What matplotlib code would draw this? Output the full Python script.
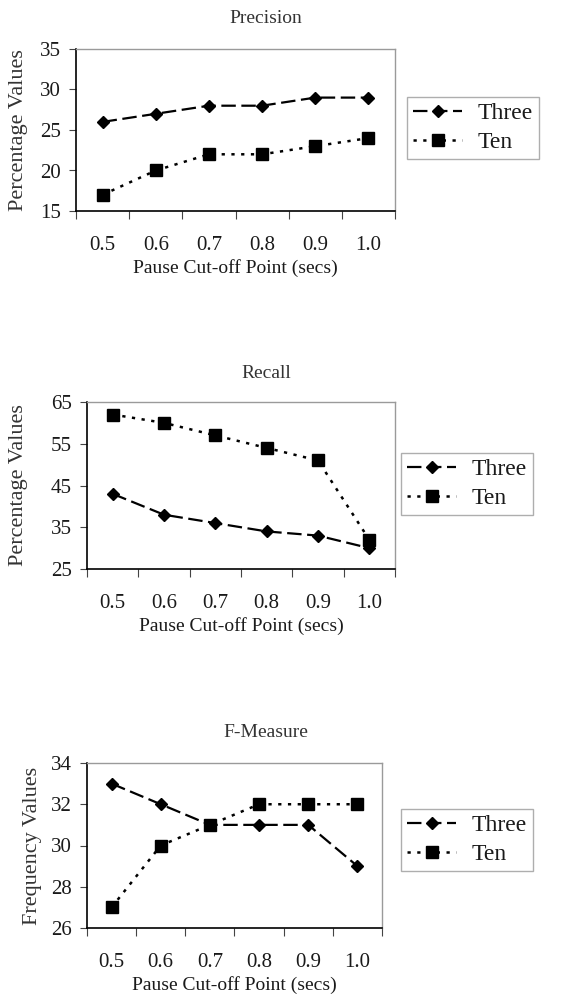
import matplotlib
matplotlib.use("Agg")
import matplotlib.pyplot as plt

plt.rcParams['font.family'] = ['Liberation Serif', 'DejaVu Serif']

categories = ["0.5", "0.6", "0.7", "0.8", "0.9", "1.0"]
series_names = ["Three", "Ten"]

precision_three = [26, 27, 28, 28, 29, 29]
precision_ten = [17, 20, 22, 22, 23, 24]
recall_three = [43, 38, 36, 34, 33, 30]
recall_ten = [62, 60, 57, 54, 51, 32]
fmeasure_three = [33, 32, 31, 31, 31, 29]
fmeasure_ten = [27, 30, 31, 32, 32, 32]

precision_yticks = [15, 20, 25, 30, 35]
recall_yticks = [25, 35, 45, 55, 65]
fmeasure_yticks = [26, 28, 30, 32, 34]

titles = ["Precision", "Recall", "F-Measure"]
ylabels = ["Percentage Values", "Percentage Values", "Frequency Values"]
xlabel = "Pause Cut-off Point (secs)"

W, H = 571, 994
fig = plt.figure(figsize=(W / 100, H / 100), dpi=100)

panels = [
    dict(rect=(76, 49, 395, 211), three=precision_three, ten=precision_ten,
         yticks=precision_yticks, leg=(407, 97), ylab_x=28, title_pad=19),
    dict(rect=(87, 402, 395, 569), three=recall_three, ten=recall_ten,
         yticks=recall_yticks, leg=(401, 453), ylab_x=28, title_pad=17),
    dict(rect=(87, 763, 382, 928), three=fmeasure_three, ten=fmeasure_ten,
         yticks=fmeasure_yticks, leg=(401, 809), ylab_x=42, title_pad=19),
]

title_center_x = 266
txt_color = "#1a1a1a"
for p, title, ylab in zip(panels, titles, ylabels):
    x0, y0, x1, y1 = p["rect"]
    ax = fig.add_axes([x0 / W, 1 - y1 / H, (x1 - x0) / W, (y1 - y0) / H])
    xs = [i + 0.5 for i in range(len(categories))]
    ax.plot(xs, p["three"], color="black", linestyle=(0, (6.5, 2.5)), linewidth=1.6,
            marker="D", markersize=6.5, label=series_names[0])
    ax.plot(xs, p["ten"], color="black", linestyle=(0, (1.3, 2.6)), linewidth=1.8,
            marker="s", markersize=8.5, label=series_names[1])
    ax.set_xlim(0, len(categories))
    ax.set_ylim(p["yticks"][0], p["yticks"][-1])
    ax.set_yticks(p["yticks"])
    ax.set_xticks(range(len(categories) + 1))
    ax.set_xticklabels([])
    ax.set_xticks(xs, minor=True)
    ax.set_xticklabels(categories, minor=True)
    ax.tick_params(axis="x", which="major", direction="out", length=6, width=0.8, color="#444")
    ax.tick_params(axis="x", which="minor", length=0, pad=18, labelsize=15, labelcolor=txt_color)
    ax.tick_params(axis="y", direction="out", length=5, width=0.8, labelsize=15,
                   labelcolor=txt_color, color="#444", pad=6)
    for s in ["top", "right"]:
        ax.spines[s].set_color("#9a9a9a")
        ax.spines[s].set_linewidth(1.0)
    for s in ["left", "bottom"]:
        ax.spines[s].set_color("black")
        ax.spines[s].set_linewidth(1.2)
    ax.set_title(title, fontsize=14, color="#333333", pad=p["title_pad"],
                 x=(title_center_x - x0) / (x1 - x0))
    ax.set_xlabel(xlabel, fontsize=14, color=txt_color, labelpad=3)
    ax.set_ylabel(ylab, fontsize=16, color="#333333")
    ax.yaxis.set_label_coords((p["ylab_x"] - x0) / (x1 - x0), 0.5)
    lx, ly = p["leg"]
    leg = ax.legend(loc="upper left", bbox_to_anchor=(lx / W, 1 - ly / H),
                    bbox_transform=fig.transFigure, fontsize=17, handlelength=2.1,
                    frameon=True, fancybox=False, edgecolor="#9a9a9a",
                    borderpad=0.25, labelspacing=0.3, handletextpad=0.65,
                    borderaxespad=0)
    leg.get_frame().set_linewidth(1.0)
    for t in leg.get_texts():
        t.set_color(txt_color)

fig.savefig("out.png", dpi=100)
